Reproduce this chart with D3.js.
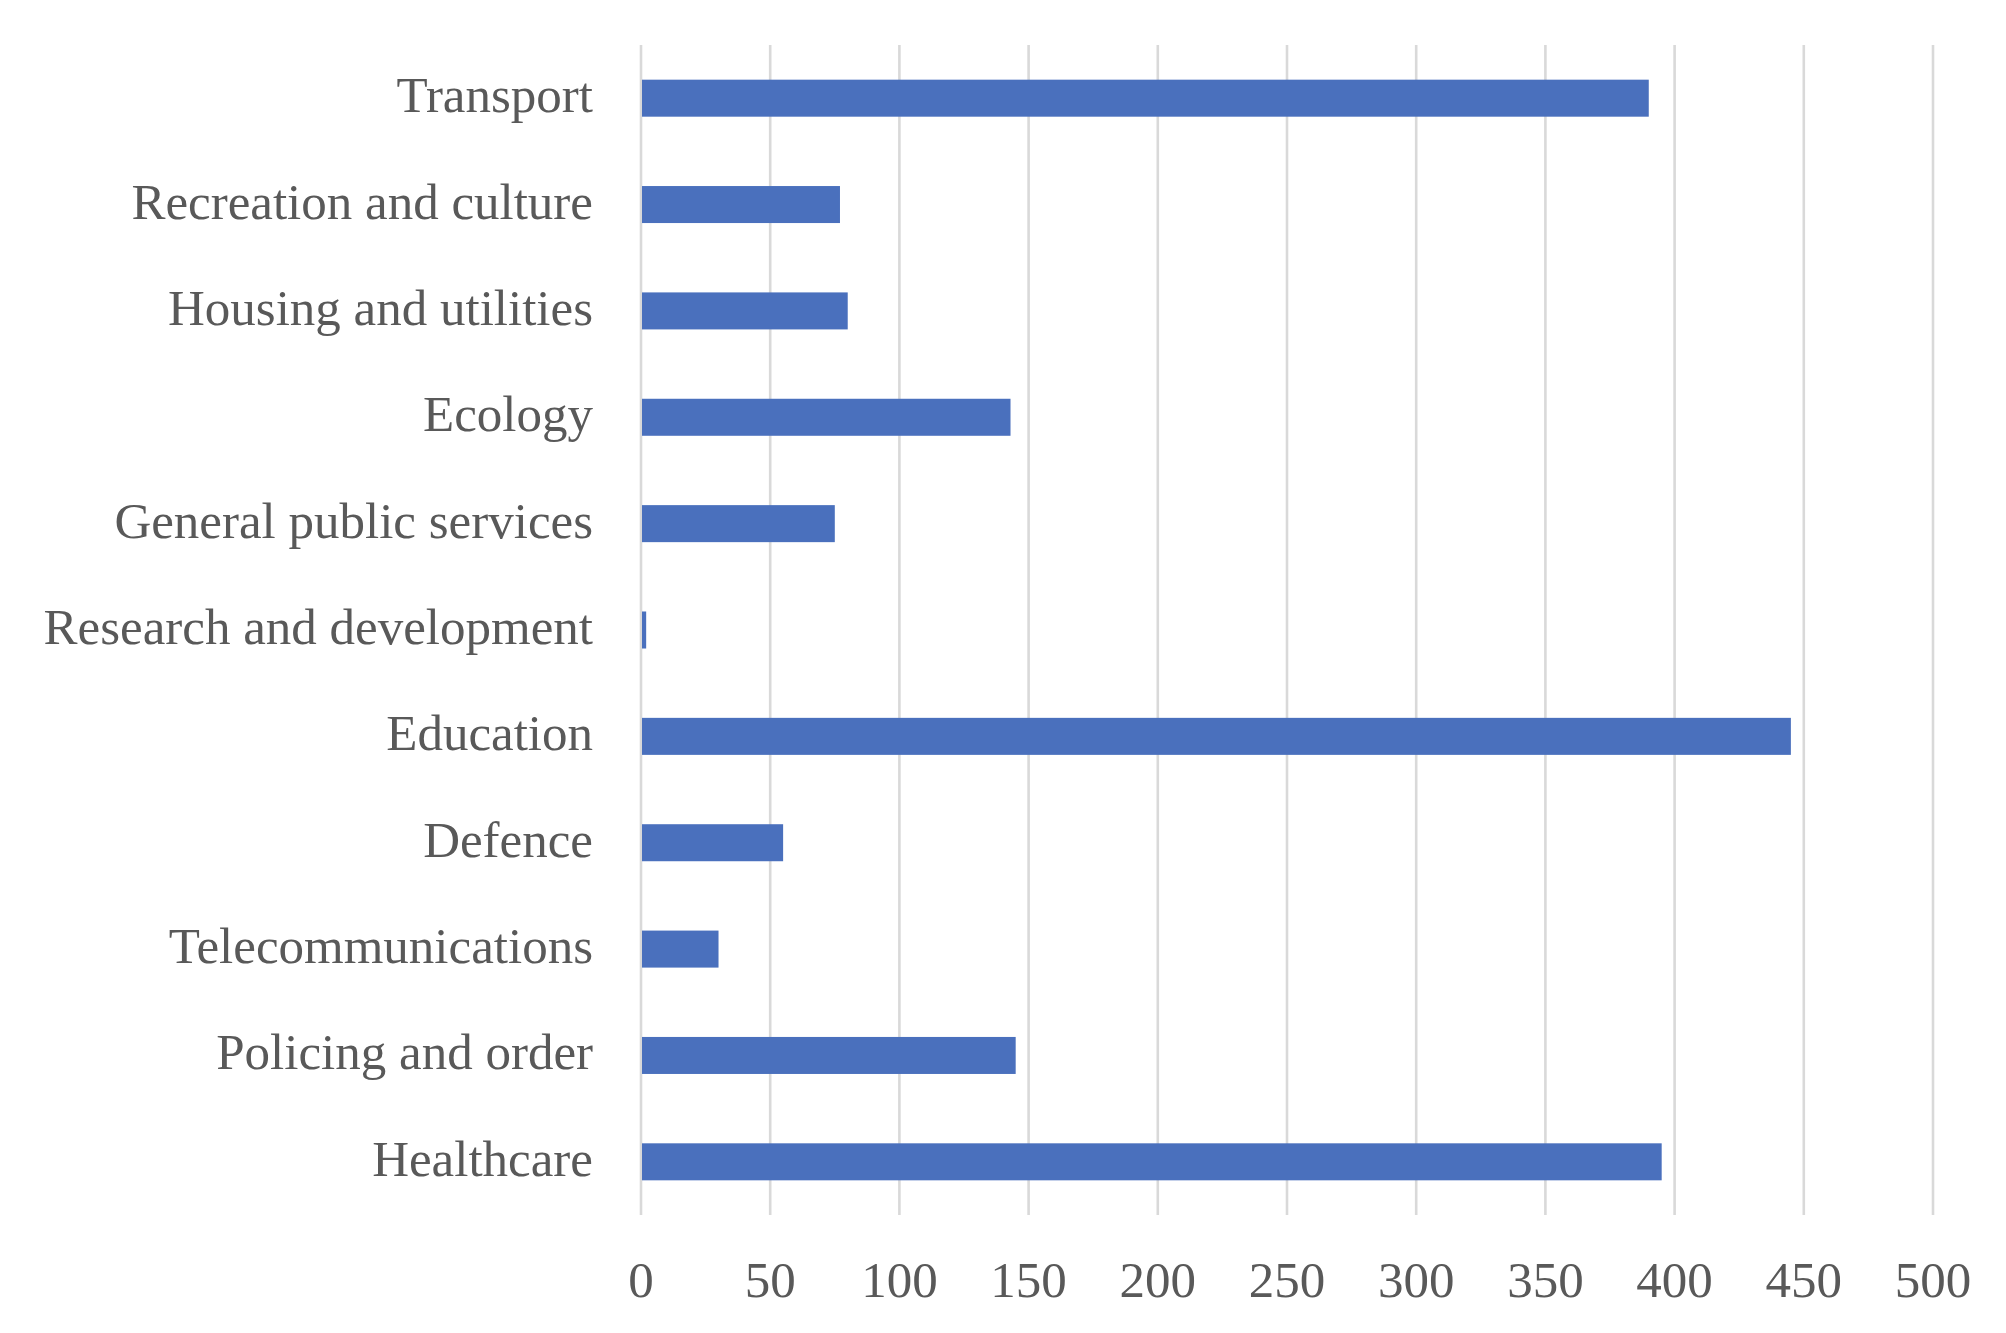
<!DOCTYPE html>
<html>
<head>
<meta charset="utf-8">
<script src="https://cdn.jsdelivr.net/npm/d3@7"></script>
<style>
  html, body { margin: 0; padding: 0; background: #ffffff; }
  svg { display: block; }
</style>
</head>
<body>
<script>
const categories = [
  "Transport",
  "Recreation and culture",
  "Housing and utilities",
  "Ecology",
  "General public services",
  "Research and development",
  "Education",
  "Defence",
  "Telecommunications",
  "Policing and order",
  "Healthcare"
];
const values = [390, 77, 80, 143, 75, 2, 445, 55, 30, 145, 395];
const tickValues = [0, 50, 100, 150, 200, 250, 300, 350, 400, 450, 500];

const W = 2006, H = 1333;
const plotLeft = 641, plotRight = 1933, plotTop = 45, plotBottom = 1215;

const svg = d3.select("body").append("svg")
  .attr("width", W).attr("height", H);

const x = d3.scaleLinear().domain([0, 500]).range([plotLeft, plotRight]);
const y = d3.scaleBand().domain(categories).range([plotTop, plotBottom])
  .paddingInner(0.652).paddingOuter(0.326);

// gridlines
svg.append("g").selectAll("line").data(tickValues).join("line")
  .attr("x1", d => x(d)).attr("x2", d => x(d))
  .attr("y1", plotTop).attr("y2", plotBottom)
  .attr("stroke", "#d9d9d9").attr("stroke-width", 2.6);

// bars
svg.append("g").selectAll("rect").data(categories).join("rect")
  .attr("x", x(0) + 1)
  .attr("y", d => y(d))
  .attr("width", (d, i) => x(values[i]) - x(0) - 1)
  .attr("height", y.bandwidth())
  .attr("fill", "#4a70bd");

// category labels
svg.append("g").selectAll("text").data(categories).join("text")
  .attr("x", 593)
  .attr("y", d => y(d) + y.bandwidth() / 2 + 14)
  .attr("text-anchor", "end")
  .attr("font-family", "'Liberation Serif', serif")
  .attr("font-size", 51)
  .attr("fill", "#595959")
  .text(d => d);

// x tick labels
svg.append("g").selectAll("text").data(tickValues).join("text")
  .attr("x", d => x(d))
  .attr("y", 1297)
  .attr("text-anchor", "middle")
  .attr("font-family", "'Liberation Serif', serif")
  .attr("font-size", 51)
  .attr("fill", "#595959")
  .text(d => d);
</script>
</body>
</html>
